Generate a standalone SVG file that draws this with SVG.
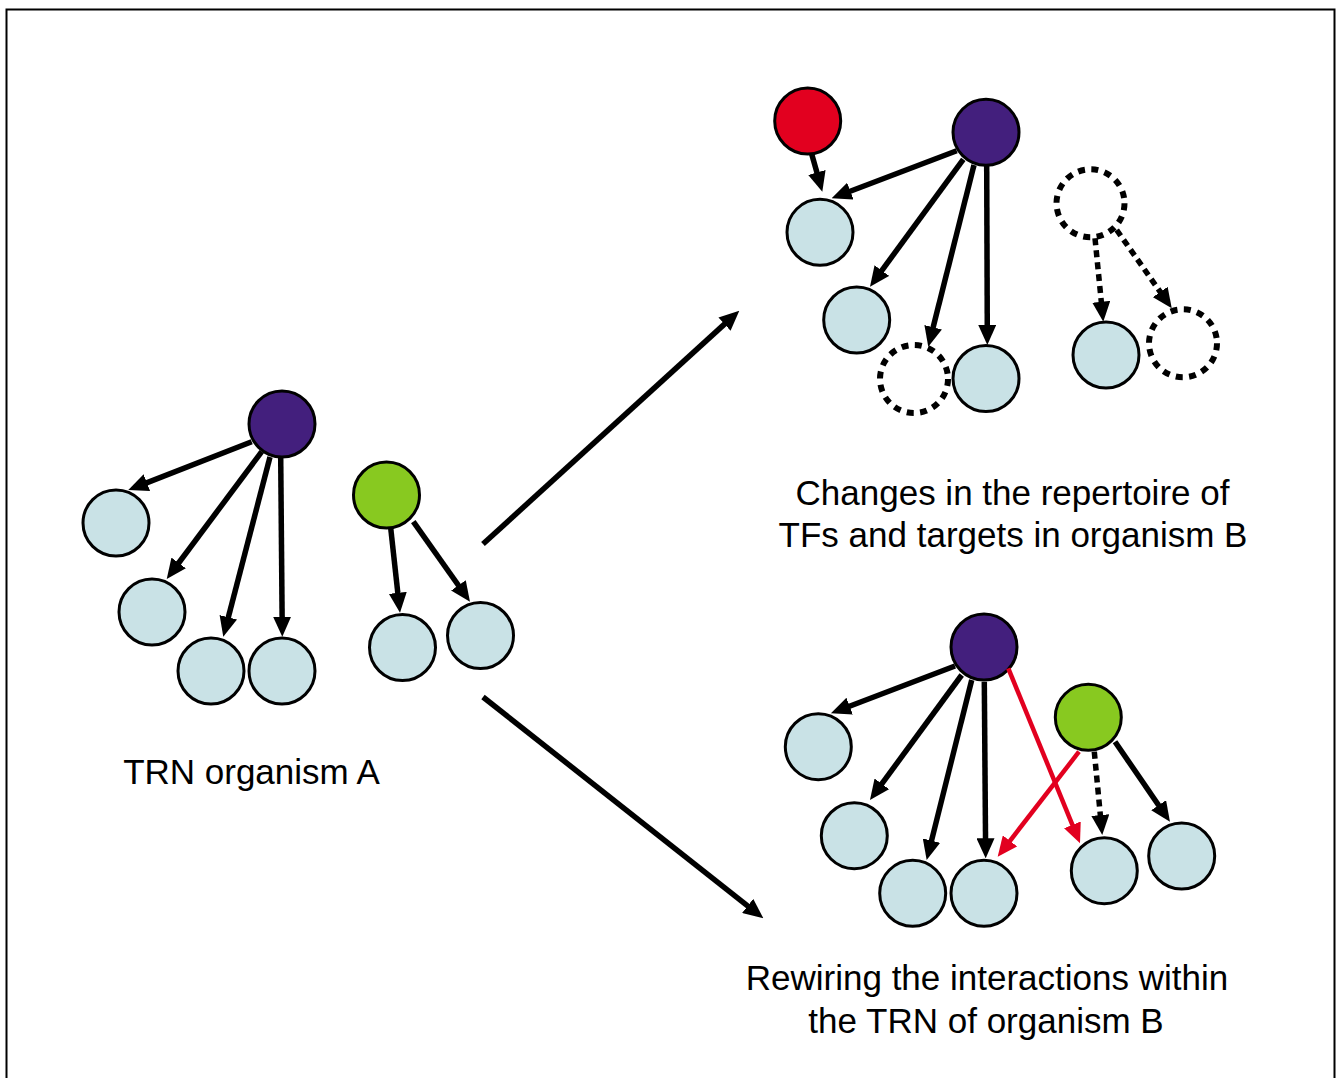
<svg xmlns="http://www.w3.org/2000/svg" width="1336" height="1078" viewBox="0 0 1336 1078">
<defs>
<style>
.t{fill:#C9E2E6;stroke:#000;stroke-width:3}
.p{fill:#431F7D;stroke:#000;stroke-width:3}
.g{fill:#88C920;stroke:#000;stroke-width:3}
.r{fill:#E2001F;stroke:#000;stroke-width:3}
.d{fill:none;stroke:#000;stroke-width:6;stroke-dasharray:7 6.4}
.a{fill:none;stroke:#000;stroke-width:5.5;marker-end:url(#ah)}
.ad{fill:none;stroke:#000;stroke-width:5.5;stroke-dasharray:7 5;marker-end:url(#ah)}
.ar{fill:none;stroke:#E2001F;stroke-width:4.5;marker-end:url(#ahr)}
.lbl{font-family:"Liberation Sans",Arial,sans-serif;font-size:35px;fill:#000;text-anchor:middle}
</style>
<marker id="ah" markerUnits="userSpaceOnUse" markerWidth="20" markerHeight="18" refX="10" refY="9" orient="auto"><path d="M0,0 L20,9 L0,18 z" fill="#000"/></marker>
<marker id="ahr" markerUnits="userSpaceOnUse" markerWidth="20" markerHeight="18" refX="10" refY="9" orient="auto"><path d="M0,0 L20,9 L0,18 z" fill="#E2001F"/></marker>
</defs>
<rect x="0" y="0" width="1336" height="1078" fill="#fff"/>
<rect x="6.5" y="9.5" width="1328" height="1080" fill="none" stroke="#000" stroke-width="2"/>

<g id="nodesA">
<circle id="A_hub" class="p" cx="282" cy="424" r="33"/>
<circle id="A_t1" class="t" cx="116" cy="523" r="33"/>
<circle id="A_t2" class="t" cx="152" cy="612" r="33"/>
<circle id="A_t3" class="t" cx="211" cy="671" r="33"/>
<circle id="A_t4" class="t" cx="282" cy="671" r="33"/>
<circle id="A_green" class="g" cx="386.5" cy="495" r="33"/>
<circle id="A_t5" class="t" cx="402.5" cy="647.5" r="33"/>
<circle id="A_t6" class="t" cx="480.5" cy="635.5" r="33"/>
</g>

<g id="nodesB1">
<circle id="B1_red" class="r" cx="807.7" cy="121" r="33"/>
<circle id="B1_hub" class="p" cx="986" cy="132.3" r="33"/>
<circle id="B1_a" class="t" cx="820" cy="232.3" r="33"/>
<circle id="B1_b" class="t" cx="856.7" cy="320" r="33"/>
<circle id="B1_c" class="d" cx="914" cy="379" r="34"/>
<circle id="B1_d" class="t" cx="986" cy="378.5" r="33"/>
<circle id="B1_tf" class="d" cx="1090.5" cy="203.3" r="34"/>
<circle id="B1_e" class="t" cx="1106" cy="355" r="33"/>
<circle id="B1_f" class="d" cx="1183" cy="343.3" r="34"/>
</g>

<g id="nodesB2">
<circle id="B2_hub" class="p" cx="984" cy="647" r="33"/>
<circle id="B2_g" class="t" cx="818.3" cy="746.7" r="33"/>
<circle id="B2_h" class="t" cx="854.3" cy="835.7" r="33"/>
<circle id="B2_i" class="t" cx="912.7" cy="893.3" r="33"/>
<circle id="B2_j" class="t" cx="984" cy="893.3" r="33"/>
<circle id="B2_green" class="g" cx="1088.3" cy="717.3" r="33"/>
<circle id="B2_k" class="t" cx="1104.3" cy="870.7" r="33"/>
<circle id="B2_l" class="t" cx="1181.7" cy="856" r="33"/>
</g>

<g id="connectors">
<line class="a" x1="251.7" y1="441.7" x2="137.6" y2="486.4"/>
<line class="a" x1="261.7" y1="451.7" x2="172.7" y2="571.0"/>
<line class="a" x1="270" y1="457" x2="225.8" y2="627.0"/>
<line class="a" x1="280.7" y1="457" x2="282.2" y2="626.7"/>
<line class="a" x1="390.7" y1="528" x2="398.9" y2="602.8"/>
<line class="a" x1="413.3" y1="521.7" x2="464.2" y2="593.5"/>

<line class="a" x1="483" y1="544" x2="731.9" y2="317.4"/>
<line class="a" x1="483" y1="697" x2="755.5" y2="912.1"/>

<line class="a" x1="811.7" y1="154" x2="819.6" y2="182.1"/>
<line class="a" x1="956.7" y1="150.7" x2="841.0" y2="194.7"/>
<line class="a" x1="963.3" y1="159.3" x2="875.9" y2="278.6"/>
<line class="a" x1="974" y1="165" x2="930.7" y2="337.0"/>
<line class="a" x1="986.7" y1="166" x2="987.3" y2="335"/>
<line class="ad" x1="1095" y1="238.3" x2="1102.3" y2="311.7"/>
<line class="ad" x1="1116.7" y1="230" x2="1166.0" y2="300.1"/>

<line class="a" x1="955" y1="666" x2="840.3" y2="709.7"/>
<line class="a" x1="961.7" y1="675" x2="875.9" y2="791.9"/>
<line class="a" x1="971.7" y1="680" x2="929.1" y2="850.3"/>
<line class="a" x1="984.3" y1="681.7" x2="985.6" y2="848.3"/>
<line class="ar" x1="1008.3" y1="668.3" x2="1076.2" y2="834.1"/>
<line class="ar" x1="1079" y1="751.7" x2="1003.8" y2="848.8"/>
<line class="ad" x1="1094.3" y1="751.7" x2="1101.3" y2="825.0"/>
<line class="a" x1="1115" y1="741.7" x2="1164.3" y2="813.5"/>
</g>

<g id="labels">
<text class="lbl" x="251.5" y="784">TRN organism A</text>
<text class="lbl" x="1012.5" y="505">Changes in the repertoire of</text>
<text class="lbl" x="1013" y="547">TFs and targets in organism B</text>
<text class="lbl" x="987" y="990">Rewiring the interactions within</text>
<text class="lbl" x="986" y="1033">the TRN of organism B</text>
</g>
</svg>
